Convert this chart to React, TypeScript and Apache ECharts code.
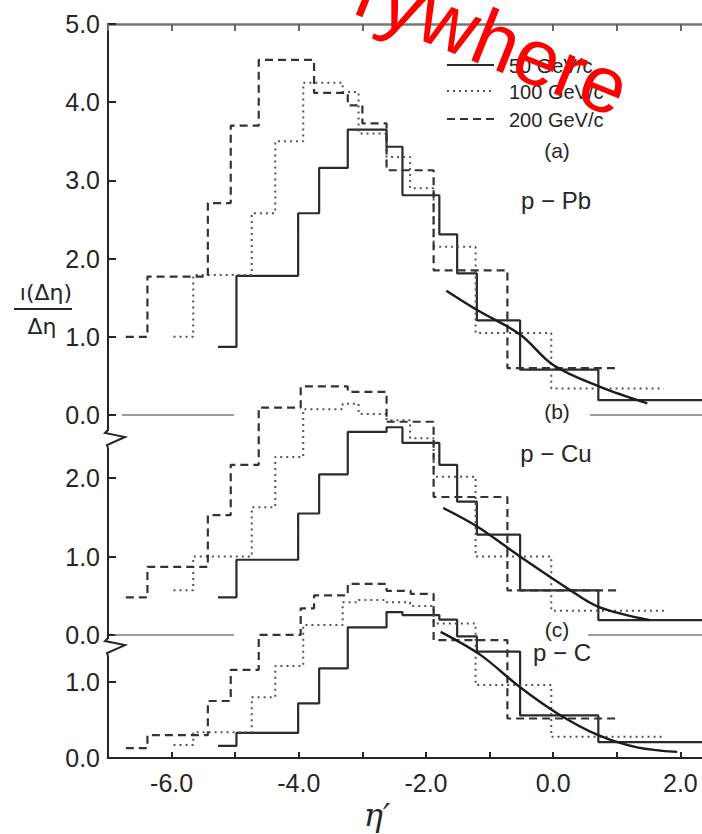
import React, { useEffect, useRef } from "react";
import * as echarts from "echarts";

// η' axis
const X_MIN = -7.0;
const X_MAX = 2.34;
const X_TICKS = [-7, -6, -5, -4, -3, -2, -1, 0, 1, 2];
const X_LABELS = [-6, -4, -2, 0, 2];

// per-panel y tick labels
const Y_LABELS_A = [0, 1, 2, 3, 4, 5];
const Y_LABELS_B = [0, 1, 2];
const Y_LABELS_C = [0, 1];

// bin edges (η') for each beam momentum
const EDGES_50 = [-5.27, -4.98, -4.01, -3.68, -3.23, -2.62, -2.37, -1.79, -1.51, -1.2, -0.52, 0.71, 2.6];
const EDGES_100 = [-5.97, -5.66, -4.74, -4.37, -3.93, -3.31, -3.06, -2.62, -2.25, -1.88, -1.22, -0.03, 1.74];
const EDGES_200 = [-6.72, -6.38, -5.43, -5.07, -4.63, -3.97, -3.76, -3.23, -3.0, -2.62, -2.24, -1.88, -0.72, 1.02];

// (a) p-Pb
const PB_50 = [0.87, 1.78, 2.58, 3.16, 3.65, 3.43, 2.81, 2.31, 1.81, 1.21, 0.58, 0.19];
const PB_100 = [1.0, 1.79, 2.58, 3.5, 4.25, 4.13, 3.6, 3.3, 2.9, 2.15, 1.05, 0.34];
const PB_200 = [1.0, 1.77, 2.71, 3.7, 4.54, 4.54, 4.12, 3.96, 3.73, 3.13, 3.13, 1.85, 0.6];
const PB_FIT = [[-1.68, 1.59], [-1.19, 1.34], [-0.52, 1.03], [0.0, 0.64], [0.74, 0.36], [1.48, 0.15]];

// (b) p-Cu
const CU_50 = [0.48, 0.96, 1.55, 2.05, 2.59, 2.65, 2.45, 2.17, 1.7, 1.28, 0.57, 0.19];
const CU_100 = [0.57, 1.0, 1.63, 2.27, 2.88, 2.95, 2.82, 2.74, 2.51, 2.02, 1.0, 0.31];
const CU_200 = [0.48, 0.87, 1.53, 2.17, 2.9, 3.17, 3.17, 3.1, 3.1, 2.72, 2.72, 1.76, 0.57];
const CU_FIT = [[-1.73, 1.62], [-1.19, 1.38], [-0.52, 1.0], [0.27, 0.57], [0.71, 0.36], [1.52, 0.19]];

// (c) p-C
const C_50 = [0.16, 0.33, 0.72, 1.18, 1.72, 1.92, 1.88, 1.82, 1.6, 1.4, 0.56, 0.21];
const C_100 = [0.17, 0.34, 0.8, 1.21, 1.75, 2.05, 2.08, 2.05, 2.0, 1.77, 0.96, 0.28];
const C_200 = [0.13, 0.3, 0.75, 1.16, 1.62, 1.97, 2.14, 2.29, 2.29, 2.2, 2.16, 1.55, 0.52];
const C_FIT = [[-1.77, 1.66], [-1.15, 1.36], [-0.52, 0.93], [0.06, 0.59], [0.71, 0.3], [1.32, 0.14], [1.95, 0.08]];

// zero-level guide segments of the offset panels
const ZERO_A = [[-6.78, -5.02], [0.58, X_MAX]];
const ZERO_B = [[-6.9, -5.02], [0.55, X_MAX]];

// where the offset panels' axes are broken
const BREAK_B = 2.5;
const BREAK_C = 1.46;

const LEGEND = ["50 GeV/c", "100 GeV/c", "200 GeV/c"];

const INK = "#262626";
const FONT = "Liberation Sans, Arial, sans-serif";

const STYLE_50 = { color: "#2b2b2b", width: 2.2, type: "solid" as const };
const STYLE_100 = { color: "#555", width: 2, type: [2, 4] as any };
const STYLE_200 = { color: "#333", width: 2.2, type: [8, 5] as any };

function histPoints(edges: number[], vals: number[]) {
  const pts = vals.map((v, i) => [edges[i], v]);
  pts.push([edges[vals.length], vals[vals.length - 1]]);
  return pts;
}

function histSeries(name: string, edges: number[], vals: number[], yIdx: number, ls: any) {
  return {
    name,
    type: "line",
    step: "end",
    xAxisIndex: 0,
    yAxisIndex: yIdx,
    data: histPoints(edges, vals),
    symbol: "none",
    silent: true,
    lineStyle: ls,
  };
}

function fitSeries(data: number[][], yIdx: number) {
  return {
    type: "line",
    xAxisIndex: 0,
    yAxisIndex: yIdx,
    data,
    smooth: 0.35,
    symbol: "none",
    silent: true,
    lineStyle: { color: "#1c1c1c", width: 2.4 },
  };
}

function zeroSeries(segs: number[][], yIdx: number) {
  return segs.map((s) => ({
    type: "line",
    xAxisIndex: 0,
    yAxisIndex: yIdx,
    data: [[s[0], 0], [s[1], 0]],
    symbol: "none",
    silent: true,
    lineStyle: { color: "#7a7a7a", width: 1.6 },
  }));
}

const GRID_TOP = 24;
const GRID_BOTTOM_PX = 758;
const H = 834;
const PLOT_H = GRID_BOTTOM_PX - GRID_TOP;

// common pixel scale per panel
const PX_A = 78.2;
const PX_B = 78.4;
const PX_C = 76.0;
const B_ZERO_PX = 635;

const yAxisBase = (labels: number[], min: number, max: number, showLine: boolean) => ({
  type: "value",
  position: "left",
  min,
  max,
  gridIndex: 0,
  splitLine: { show: false },
  axisLine: { show: showLine, onZero: false, lineStyle: { color: INK, width: 2 } },
  axisTick: {
    show: true,
    inside: true,
    length: 8,
    customValues: labels,
    lineStyle: { color: INK, width: 2 },
  },
  axisLabel: {
    show: true,
    customValues: labels,
    formatter: (v: number) => v.toFixed(1),
    color: INK,
    fontSize: 25,
    fontFamily: FONT,
    margin: 8,
  },
});

const option: any = {
  animation: false,
  backgroundColor: "#ffffff",
  grid: {
    left: 108,
    right: 0,
    top: GRID_TOP,
    bottom: H - GRID_BOTTOM_PX,
    containLabel: false,
    outerBoundsMode: "none",
  },
  xAxis: [
    {
      type: "value",
      min: X_MIN,
      max: X_MAX,
      position: "bottom",
      splitLine: { show: false },
      axisLine: { onZero: false, lineStyle: { color: INK, width: 2 } },
      axisTick: { inside: true, length: 6, customValues: X_TICKS, lineStyle: { color: INK, width: 2 } },
      axisLabel: {
        customValues: X_LABELS,
        formatter: (v: number) => v.toFixed(1),
        color: INK,
        fontSize: 25,
        fontFamily: FONT,
        margin: 12,
      },
    },
    {
      type: "value",
      min: X_MIN,
      max: X_MAX,
      position: "top",
      splitLine: { show: false },
      axisLine: { onZero: false, lineStyle: { color: "#777", width: 2.5 } },
      axisTick: { inside: true, length: 7, customValues: X_TICKS, lineStyle: { color: "#666", width: 2 } },
      axisLabel: { show: false },
    },
  ],
  yAxis: [
    yAxisBase(Y_LABELS_A, 5 - PLOT_H / PX_A, 5, true),
    yAxisBase(
      Y_LABELS_B,
      -(GRID_BOTTOM_PX - B_ZERO_PX) / PX_B,
      (B_ZERO_PX - GRID_TOP) / PX_B,
      false
    ),
    yAxisBase(Y_LABELS_C, 0, PLOT_H / PX_C, false),
  ],
  series: [
    ...zeroSeries(ZERO_A, 0),
    ...zeroSeries(ZERO_B, 1),
    histSeries(LEGEND[0], EDGES_50, PB_50, 0, STYLE_50),
    histSeries(LEGEND[1], EDGES_100, PB_100, 0, STYLE_100),
    histSeries(LEGEND[2], EDGES_200, PB_200, 0, STYLE_200),
    fitSeries(PB_FIT, 0),
    histSeries(LEGEND[0], EDGES_50, CU_50, 1, STYLE_50),
    histSeries(LEGEND[1], EDGES_100, CU_100, 1, STYLE_100),
    histSeries(LEGEND[2], EDGES_200, CU_200, 1, STYLE_200),
    fitSeries(CU_FIT, 1),
    histSeries(LEGEND[0], EDGES_50, C_50, 2, STYLE_50),
    histSeries(LEGEND[1], EDGES_100, C_100, 2, STYLE_100),
    histSeries(LEGEND[2], EDGES_200, C_200, 2, STYLE_200),
    fitSeries(C_FIT, 2),
  ],
};

function label(text: string, x: number, y: number, size: number, extra: any = {}) {
  return {
    type: "text",
    x,
    y,
    silent: true,
    z: 50,
    style: {
      text,
      fill: extra.fill || INK,
      font: extra.font || `${size}px ${FONT}`,
      textAlign: extra.align || "center",
      textVerticalAlign: extra.valign || "middle",
      align: extra.align || "center",
      verticalAlign: extra.valign || "middle",
    },
    ...(extra.rotation !== undefined ? { rotation: extra.rotation } : {}),
  };
}

function legendLine(y: number, ls: any) {
  return {
    type: "line",
    silent: true,
    z: 50,
    shape: { x1: 447, y1: y, x2: 494, y2: y },
    style: { stroke: ls.color, lineWidth: ls.width, lineDash: ls.type === "solid" ? null : ls.type },
  };
}

function zigzag(x: number, y: number) {
  return [
    { type: "rect", silent: true, z: 60, shape: { x: x - 3, y: y - 8, width: 6, height: 17 }, style: { fill: "#fff" } },
    {
      type: "polyline",
      silent: true,
      z: 61,
      shape: { points: [[x, y - 9], [x - 3, y - 6], [x + 17, y - 2], [x - 1, y + 6], [x, y + 9]] },
      style: { stroke: INK, lineWidth: 2, fill: null },
    },
  ];
}

export default function App() {
  const ref = useRef<HTMLDivElement>(null);
  useEffect(() => {
    const chart = echarts.init(ref.current!, null, { renderer: "svg" });
    chart.setOption(option);
    const x0 = chart.convertToPixel({ xAxisIndex: 0 }, X_MIN) as number;
    const yAB = chart.convertToPixel({ yAxisIndex: 1 }, BREAK_B) as number;
    const yBC = chart.convertToPixel({ yAxisIndex: 2 }, BREAK_C) as number;
    chart.setOption({
      graphic: [
        ...zigzag(x0, yAB),
        ...zigzag(x0, yBC),
        legendLine(65, STYLE_50),
        legendLine(91, STYLE_100),
        legendLine(119, STYLE_200),
        label(LEGEND[0], 509, 66, 20, { align: "left" }),
        label(LEGEND[1], 509, 92, 20, { align: "left" }),
        label(LEGEND[2], 509, 120, 20, { align: "left" }),
        label("(a)", 557, 150, 21),
        label("p − Pb", 556, 200, 24),
        label("(b)", 557, 411, 21),
        label("p − Cu", 556, 453, 24),
        label("(c)", 557, 629, 21),
        label("p − C", 562, 652, 24),
        label("η′", 377, 815, 32, { font: "italic 32px DejaVu Serif, serif" }),
        label("ı(Δη)", 46, 292, 22, { font: "22px DejaVu Sans, sans-serif" }),
        { type: "line", silent: true, shape: { x1: 14, y1: 309, x2: 72, y2: 309 }, style: { stroke: INK, lineWidth: 2 } },
        label("Δη", 42, 326, 22, { font: "22px DejaVu Sans, sans-serif" }),
        label("rywhere", 346, 24, 80, {
          align: "left",
          valign: "bottom",
          fill: "#ff0000",
          rotation: -0.38,
          font: `80px ${FONT}`,
        }),
      ],
    });
    return () => chart.dispose();
  }, []);
  return (
    <div
      ref={ref}
      style={{ position: "fixed", left: 0, top: 0, width: 702, height: 834, background: "#fff" }}
    />
  );
}
